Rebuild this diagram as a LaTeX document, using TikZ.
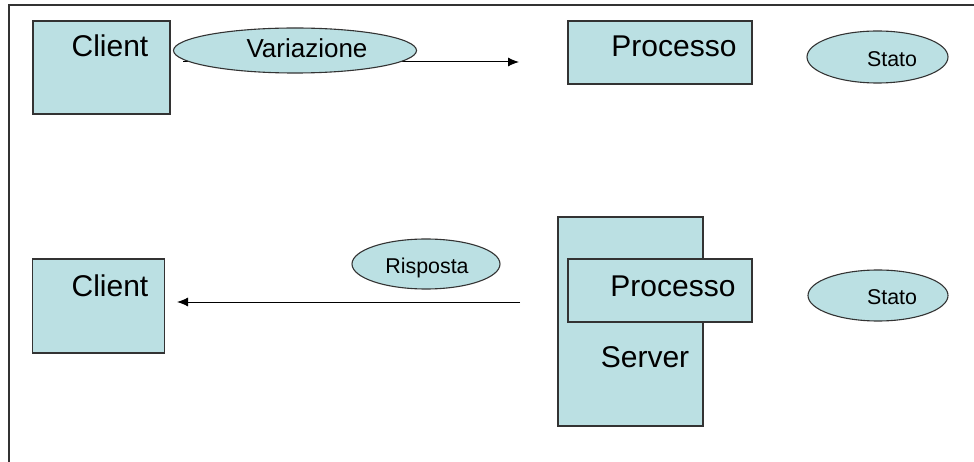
\documentclass[tikz,border=0pt]{standalone}
\usepackage{fontspec}
\setmainfont{Liberation Sans}
\usepackage{xcolor}
\usetikzlibrary{arrows.meta,positioning,shapes.geometric}
\definecolor{SrvFill}{HTML}{BBE0E3}
\definecolor{SrvLine}{HTML}{333333}
\tikzset{
  box/.style={draw=SrvLine,line width=1.1pt,fill=SrvFill,inner sep=0pt},
  msg/.style={ellipse,draw=SrvLine,line width=1.1pt,fill=SrvFill,inner sep=0pt},
  bigtxt/.style={anchor=base,inner sep=0pt,font=\fontsize{30}{36}\selectfont},
  midtxt/.style={anchor=base,inner sep=0pt,font=\fontsize{26}{31}\selectfont},
  smalltxt/.style={anchor=base,inner sep=0pt,font=\fontsize{21.4}{26}\selectfont},
  flow/.style={-{Latex[length=11pt,width=9pt]},line width=1pt,draw=black},
  frame/.style={line width=1.5pt,draw=SrvLine}
}

\begin{document}
\begin{tikzpicture}[x=1pt,y=-1pt]
  \useasboundingbox (0,0) rectangle (974,462);
  \draw[frame] (9,462) -- (9,5) -- (974,5);
  % request
  \node[box,minimum width=137,minimum height=93] (client1) at (101.5,67.5) {};
  \node[bigtxt] (client1-t) at (110,57) {Client};
  \node[box,minimum width=184,minimum height=63] (proc1) at (660,52.5) {};
  \node[bigtxt] (proc1-t) at (674,57) {Processo};
  \coordinate (req-start) at (183,62);
  \coordinate (req-end) at (519,62);
  \draw[flow] (req-start) -- (req-end);
  \node[msg,minimum width=243,minimum height=45] (var) at (295,50.5) {};
  \node[midtxt] (var-t) at (307,58) {Variazione};
  \node[msg,minimum width=141,minimum height=52] (stato1) at (877.5,57) {};
  \node[smalltxt] (stato1-t) at (892,67) {Stato};
  % reply
  \node[box,minimum width=132,minimum height=94] (client2) at (98.5,306) {};
  \node[bigtxt] (client2-t) at (110,297) {Client};
  \node[box,minimum width=145,minimum height=209] (server) at (630.5,321.5) {};
  \node[bigtxt] (server-t) at (645,367) {Server};
  \node[box,minimum width=184,minimum height=63] (proc2) at (660,290.5) {};
  \node[bigtxt] (proc2-t) at (673,297) {Processo};
  \coordinate (rep-start) at (520,302);
  \coordinate (rep-end) at (177,302);
  \draw[flow] (rep-start) -- (rep-end);
  \node[msg,minimum width=148,minimum height=50] (risp) at (426,264) {};
  \node[smalltxt] (risp-t) at (427,273) {Risposta};
  \node[msg,minimum width=140,minimum height=51] (stato2) at (878,295.5) {};
  \node[smalltxt] (stato2-t) at (892,305) {Stato};
\end{tikzpicture}
\end{document}
